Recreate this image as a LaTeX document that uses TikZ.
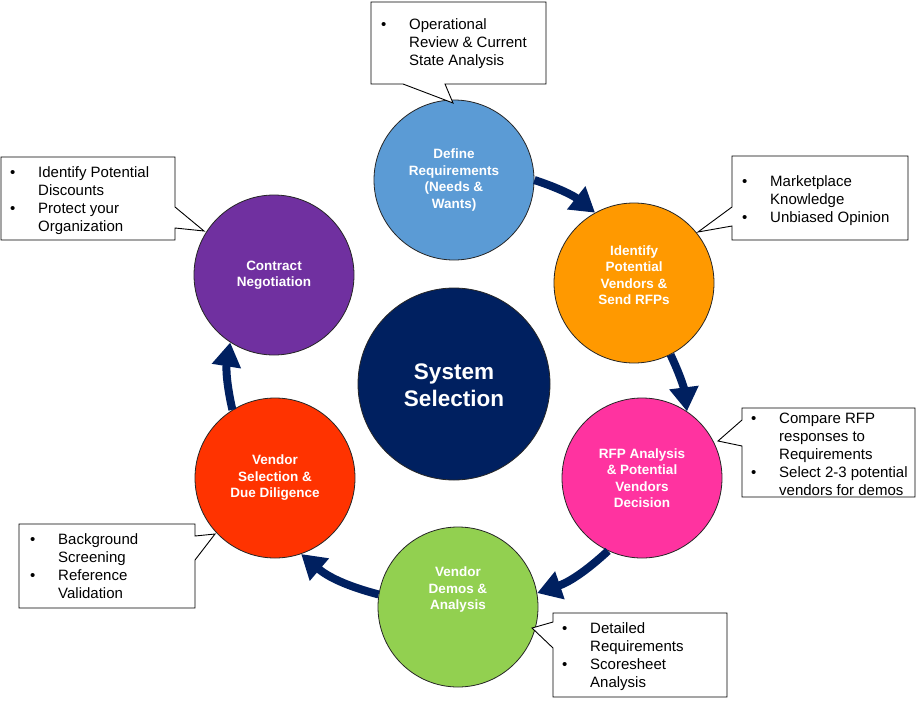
\documentclass[tikz,border=0pt]{standalone}
\usepackage{fontspec}
\setmainfont{Liberation Sans}
\usetikzlibrary{arrows.meta}
\definecolor{navy}{HTML}{002060}
\definecolor{cblue}{HTML}{5B9BD5}
\definecolor{corange}{HTML}{FF9900}
\definecolor{cpink}{HTML}{FF33A0}
\definecolor{cgreen}{HTML}{92D050}
\definecolor{cred}{HTML}{FF3300}
\definecolor{cpurple}{HTML}{7030A0}
\begin{document}
\begin{tikzpicture}[x=1pt,y=-1pt,
  stage/.style={circle, draw=black!85, line width=0.8pt, minimum size=160pt, inner sep=0pt},
  stagetext/.style={text=white, font=\bfseries\fontsize{13.5}{16.5}\selectfont, align=center, inner sep=0pt},
  callout/.style={draw=black, line width=0.9pt, fill=white, line join=miter},
  flow/.style={draw=navy, line width=8pt, -{Triangle[length=24pt,width=28pt]}},
  note/.style={anchor=base west, inner sep=0pt, font=\fontsize{15}{18}\selectfont}]
\useasboundingbox[fill=white] (0,0) rectangle (920,701);

% stage circles
\node[stage, fill=cblue]   (def) at (454,180) {};
\node[stage, fill=corange] (idf) at (634,283) {};
\node[stage, fill=cpink]   (rfp) at (642,478) {};
\node[stage, fill=cgreen]  (dem) at (458,607) {};
\node[stage, fill=cred]    (sel) at (275,478) {};
\node[stage, fill=cpurple] (con) at (274,275) {};
\node[circle, draw=black!85, line width=0.8pt, fill=navy, minimum size=192pt, inner sep=0pt] (sys) at (454,384) {};

\node[stagetext] (tdef) at (454,180) {Define\\Requirements\\(Needs \&\\Wants)};
\node[stagetext] (tidf) at (634,275) {Identify\\Potential\\Vendors \&\\Send RFPs};
\node[stagetext] (trfp) at (642,478) {RFP Analysis\\\& Potential\\Vendors\\Decision};
\node[stagetext] (tdem) at (458,590) {Vendor\\Demos \&\\Analysis};
\node[stagetext] (tsel) at (275,478) {Vendor\\Selection \&\\Due Diligence};
\node[stagetext] (tcon) at (274,275) {Contract\\Negotiation};
\node[text=white, font=\bfseries\fontsize{22.5}{27}\selectfont, align=center, inner sep=0pt] (tsys) at (454,385) {System\\Selection};

% flow arrows
\draw[flow] (def.0) to[bend left=10] (idf.119);
\draw[flow] (idf.-63) to[bend left=9] (rfp.56);
\draw[flow] (rfp.-115) to[bend left=12] (dem.10);
\draw[flow] (dem.171) to[bend left=13] (sel.-71);
\draw[flow] (sel.122) to[bend left=11] (con.-123);

% callouts
\draw[callout] (371,2) -- (546,2) -- (546,84) -- (445,84) -- (453,103) -- (403,84) -- (371,84) -- cycle;
\draw[callout] (1,157) -- (175,157) -- (175,207) -- (204,231) -- (175,228) -- (175,240) -- (1,240) -- cycle;
\draw[callout] (732,156) -- (908,156) -- (908,240) -- (732,240) -- (732,226) -- (698,232) -- (732,207) -- cycle;
\draw[callout] (742,408) -- (915,408) -- (915,497) -- (742,497) -- (742,446) -- (718,441) -- (742,420) -- cycle;
\draw[callout] (19,524) -- (195,524) -- (195,536) -- (215,534) -- (195,560) -- (195,608) -- (19,608) -- cycle;
\draw[callout] (553,613) -- (727,613) -- (727,697) -- (553,697) -- (553,648) -- (532,628) -- (553,622) -- cycle;

% callout texts
\node[note] (ntop) at (381,30) {\begin{tabular}[t]{@{}p{28pt}@{}l@{}}\textbullet & Operational\\ & Review \& Current\\ & State Analysis\end{tabular}};
\node[note] (nleft) at (10,177) {\begin{tabular}[t]{@{}p{28pt}@{}l@{}}\textbullet & Identify Potential\\ & Discounts\\ \textbullet & Protect your\\ & Organization\end{tabular}};
\node[note] (nright) at (742,186) {\begin{tabular}[t]{@{}p{28pt}@{}l@{}}\textbullet & Marketplace\\ & Knowledge\\ \textbullet & Unbiased Opinion\end{tabular}};
\node[note] (nrfp) at (751,423) {\begin{tabular}[t]{@{}p{28pt}@{}l@{}}\textbullet & Compare RFP\\ & responses to\\ & Requirements\\ \textbullet & Select 2-3 potential\\ & vendors for demos\end{tabular}};
\node[note] (nsel) at (30,544) {\begin{tabular}[t]{@{}p{28pt}@{}l@{}}\textbullet & Background\\ & Screening\\ \textbullet & Reference\\ & Validation\end{tabular}};
\node[note] (ndem) at (562,633) {\begin{tabular}[t]{@{}p{28pt}@{}l@{}}\textbullet & Detailed\\ & Requirements\\ \textbullet & Scoresheet\\ & Analysis\end{tabular}};
\end{tikzpicture}
\end{document}
